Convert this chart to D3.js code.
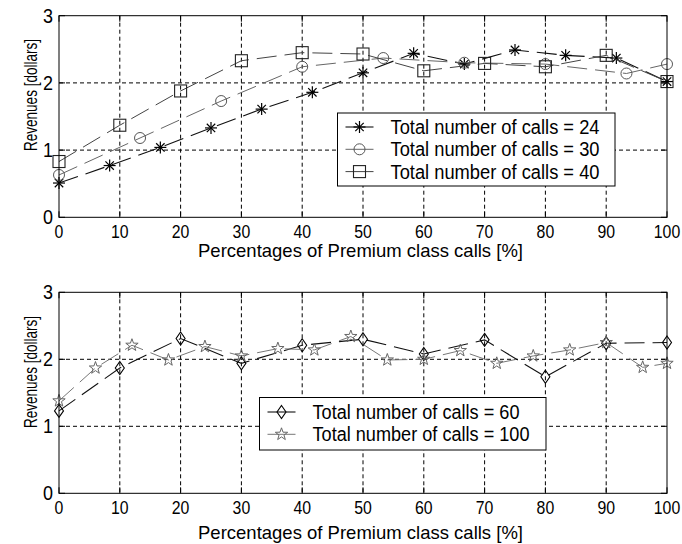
<!DOCTYPE html>
<html>
<head>
<meta charset="utf-8">
<script src="https://cdn.jsdelivr.net/npm/d3@7"></script>
<style>
  html, body { margin: 0; padding: 0; background: #fff; }
  text { font-family: "Liberation Sans", Arial, sans-serif; fill: #000; }
</style>
</head>
<body>
<div id="chart"></div>
<script>
// values
var xTicks = [0, 10, 20, 30, 40, 50, 60, 70, 80, 90, 100];
var yTicks = [0, 1, 2, 3];

var pct24 = [0, 8.33, 16.67, 25, 33.33, 41.67, 50, 58.33, 66.67, 75, 83.33, 91.67, 100];
var rev24 = [0.51, 0.77, 1.04, 1.33, 1.61, 1.86, 2.15, 2.44, 2.28, 2.49, 2.41, 2.37, 2.02];
var pct30 = [0, 13.33, 26.67, 40, 53.33, 66.67, 80, 93.33, 100];
var rev30 = [0.63, 1.18, 1.73, 2.24, 2.37, 2.30, 2.28, 2.14, 2.28];
var pct40 = [0, 10, 20, 30, 40, 50, 60, 70, 80, 90, 100];
var rev40 = [0.83, 1.37, 1.88, 2.33, 2.45, 2.43, 2.18, 2.29, 2.24, 2.41, 2.02];

var pct60 = [0, 10, 20, 30, 40, 50, 60, 70, 80, 90, 100];
var rev60 = [1.23, 1.87, 2.31, 1.94, 2.21, 2.30, 2.08, 2.29, 1.74, 2.24, 2.25];
var pct100 = [0, 6, 12, 18, 24, 30, 36, 42, 48, 54, 60, 66, 72, 78, 84, 90, 96, 100];
var rev100 = [1.38, 1.87, 2.21, 1.99, 2.19, 2.05, 2.16, 2.14, 2.34, 1.99, 2.00, 2.13, 1.94, 2.05, 2.14, 2.25, 1.88, 1.94];

var xTitle = 'Percentages of Premium class calls [%]';
var yTitle = 'Revenues [dollars]';

var W = 682, H = 544;
var svg = d3.select('#chart').append('svg').attr('width', W).attr('height', H);

//marker shapes, drawn centred on 0,0
function marker(g, type, color){
    var p = g.append('g');
    if(type == 'asterisk'){
        var r = 6;
        [[-r,0,r,0],[0,-r,0,r],[-4.2,-4.2,4.2,4.2],[-4.2,4.2,4.2,-4.2]].forEach(function(l){
            p.append('line').attr('x1',l[0]).attr('y1',l[1]).attr('x2',l[2]).attr('y2',l[3])
                .attr('stroke',color).attr('stroke-width',1.2);
        });
    } else if(type == 'circle'){
        p.append('circle').attr('r',5.5).attr('fill','none').attr('stroke',color).attr('stroke-width',1);
    } else if(type == 'square'){
        p.append('rect').attr('x',-6).attr('y',-6).attr('width',12).attr('height',12)
            .attr('fill','none').attr('stroke',color).attr('stroke-width',1.1);
    } else if(type == 'diamond'){
        p.append('path').attr('d','M0,-6.5L4.5,0L0,6.5L-4.5,0Z')
            .attr('fill','none').attr('stroke',color).attr('stroke-width',1.1);
    } else if(type == 'pentagram'){
        var pts = [];
        for(var i = 0; i < 10; i++){
            var rr = i % 2 ? 2.6 : 6.5, a = -Math.PI/2 + i*Math.PI/5;
            pts.push([rr*Math.cos(a), rr*Math.sin(a)]);
        }
        p.append('path').attr('d','M'+pts.join('L')+'Z')
            .attr('fill','none').attr('stroke',color).attr('stroke-width',1);
    }
    return p;
}

function panel(top, bottom, series, legendBox, xLabelY, yLabelY){
    var x = d3.scaleLinear().domain([0,100]).range([59, 667]);
    var y = d3.scaleLinear().domain([0,3]).range([bottom, top]);
    var g = svg.append('g');

    //grid
    g.selectAll('.vg').data(xTicks.slice(1,-1)).enter().append('line')
        .attr('x1',function(d){return x(d);}).attr('x2',function(d){return x(d);})
        .attr('y1',top).attr('y2',bottom)
        .attr('stroke','#000').attr('stroke-width',1).attr('stroke-dasharray','4,3');
    g.selectAll('.hg').data(yTicks.slice(1,-1)).enter().append('line')
        .attr('y1',function(d){return y(d);}).attr('y2',function(d){return y(d);})
        .attr('x1',59).attr('x2',667)
        .attr('stroke','#000').attr('stroke-width',1).attr('stroke-dasharray','4,3');

    //ticks inside the box
    xTicks.forEach(function(d){
        g.append('line').attr('x1',x(d)).attr('x2',x(d)).attr('y1',bottom).attr('y2',bottom-6).attr('stroke','#000');
        g.append('line').attr('x1',x(d)).attr('x2',x(d)).attr('y1',top).attr('y2',top+6).attr('stroke','#000');
        g.append('text').attr('x',x(d)).attr('y',bottom+21).attr('text-anchor','middle')
            .attr('font-size',19).attr('textLength',String(d).length*8.8).attr('lengthAdjust','spacingAndGlyphs')
            .text(d);
    });
    yTicks.forEach(function(d){
        g.append('line').attr('x1',59).attr('x2',65).attr('y1',y(d)).attr('y2',y(d)).attr('stroke','#000');
        g.append('line').attr('x1',667).attr('x2',661).attr('y1',y(d)).attr('y2',y(d)).attr('stroke','#000');
        g.append('text').attr('x',53).attr('y',y(d)+7).attr('text-anchor','end')
            .attr('font-size',20).attr('textLength',10).attr('lengthAdjust','spacingAndGlyphs')
            .text(d);
    });

    //series
    var line = d3.line().x(function(d){return x(d[0]);}).y(function(d){return y(d[1]);});
    series.forEach(function(s){
        var pts = d3.zip(s.x, s.y);
        g.append('path').attr('d', line(pts)).attr('fill','none')
            .attr('stroke', s.lineColor).attr('stroke-width', s.lineWidth).attr('stroke-dasharray','20,8');
        pts.forEach(function(p){
            marker(g, s.marker, s.color).attr('transform','translate('+x(p[0])+','+y(p[1])+')');
        });
    });

    //frame
    g.append('rect').attr('x',59).attr('y',top).attr('width',608).attr('height',bottom-top)
        .attr('fill','none').attr('stroke','#000').attr('stroke-width',1);

    //legend
    var lg = g.append('g');
    lg.append('rect').attr('x',legendBox.x).attr('y',legendBox.y).attr('width',legendBox.w).attr('height',legendBox.h)
        .attr('fill','#fff').attr('stroke','#000').attr('stroke-width',1);
    series.forEach(function(s, i){
        var cy = legendBox.y + legendBox.first + i*legendBox.step;
        lg.append('line').attr('x1',legendBox.x+8).attr('x2',legendBox.x+36).attr('y1',cy).attr('y2',cy)
            .attr('stroke',s.lineColor).attr('stroke-width',s.lineWidth);
        marker(lg, s.marker, s.color).attr('transform','translate('+(legendBox.x+22)+','+cy+')');
        lg.append('text').attr('x',legendBox.x+legendBox.tx).attr('y',cy+7)
            .attr('font-size',20).attr('textLength',s.labelW).attr('lengthAdjust','spacingAndGlyphs')
            .text(s.label);
    });

    //axis titles
    g.append('text').attr('x',360.5).attr('y',xLabelY).attr('text-anchor','middle')
        .attr('font-size',19).attr('textLength',325).attr('lengthAdjust','spacingAndGlyphs').text(xTitle);
    g.append('text').attr('transform','translate(37,'+yLabelY+') rotate(-90)').attr('text-anchor','middle')
        .attr('font-size',18).attr('textLength',112).attr('lengthAdjust','spacingAndGlyphs').text(yTitle);
}

panel(15.7, 217.3, [
    {x:pct24, y:rev24, marker:'asterisk', color:'#000', lineColor:'#111', lineWidth:1.1, label:'Total number of calls = 24', labelW:209},
    {x:pct30, y:rev30, marker:'circle', color:'#555', lineColor:'#666', lineWidth:1, label:'Total number of calls = 30', labelW:209},
    {x:pct40, y:rev40, marker:'square', color:'#222', lineColor:'#444', lineWidth:1, label:'Total number of calls = 40', labelW:209}
], {x:337.5, y:113, w:277.5, h:73, first:14, step:22.3, tx:53}, 257, 95);

panel(292.3, 493.3, [
    {x:pct60, y:rev60, marker:'diamond', color:'#000', lineColor:'#111', lineWidth:1.1, label:'Total number of calls = 60', labelW:207},
    {x:pct100, y:rev100, marker:'pentagram', color:'#666', lineColor:'#777', lineWidth:1, label:'Total number of calls = 100', labelW:217}
], {x:259.5, y:397.5, w:286.5, h:52.5, first:14.5, step:22.3, tx:53}, 539, 372);
</script>
</body>
</html>
